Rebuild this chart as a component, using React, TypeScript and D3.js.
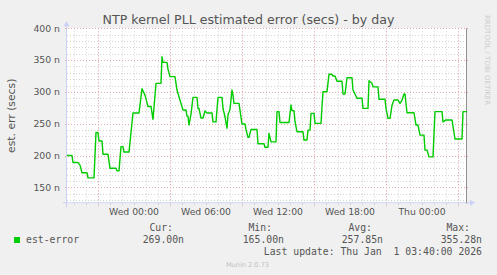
import React from "react";
import * as d3 from "d3";

const title = "NTP kernel PLL estimated error (secs) - by day";
const yTitle = "est. err (secs)";
const seriesName = "est-error";
const yTickValues = [150, 200, 250, 300, 350, 400];
const rangeStart = "2025-12-30 18:25";
const rangeEnd = "2026-01-01 03:45";

// sample times and values (nanoseconds)
const times = [
  "2025-12-30 18:25", "2025-12-30 18:50", "2025-12-30 18:55", "2025-12-30 19:20", "2025-12-30 19:30",
  "2025-12-30 19:40", "2025-12-30 20:05", "2025-12-30 20:10", "2025-12-30 20:40", "2025-12-30 20:50",
  "2025-12-30 21:00", "2025-12-30 21:05", "2025-12-30 21:20", "2025-12-30 21:25", "2025-12-30 21:50",
  "2025-12-30 22:00", "2025-12-30 22:30", "2025-12-30 22:35", "2025-12-30 22:45", "2025-12-30 22:55",
  "2025-12-30 23:05", "2025-12-30 23:10", "2025-12-30 23:35", "2025-12-30 23:55",
  "2025-12-31 00:25", "2025-12-31 00:40", "2025-12-31 00:55", "2025-12-31 01:10", "2025-12-31 01:25",
  "2025-12-31 01:35", "2025-12-31 01:50", "2025-12-31 02:15", "2025-12-31 02:20", "2025-12-31 02:25",
  "2025-12-31 02:45", "2025-12-31 02:50", "2025-12-31 03:00", "2025-12-31 03:25", "2025-12-31 03:35",
  "2025-12-31 03:50", "2025-12-31 04:05", "2025-12-31 04:20", "2025-12-31 04:25", "2025-12-31 04:30",
  "2025-12-31 04:35", "2025-12-31 04:45", "2025-12-31 04:55", "2025-12-31 05:15", "2025-12-31 05:20",
  "2025-12-31 05:25", "2025-12-31 05:35", "2025-12-31 05:45", "2025-12-31 05:55", "2025-12-31 06:05",
  "2025-12-31 06:30", "2025-12-31 06:35", "2025-12-31 06:50", "2025-12-31 07:00", "2025-12-31 07:20",
  "2025-12-31 07:25", "2025-12-31 07:35", "2025-12-31 07:45", "2025-12-31 07:50", "2025-12-31 08:00",
  "2025-12-31 08:10", "2025-12-31 08:15", "2025-12-31 08:20", "2025-12-31 08:45", "2025-12-31 09:00",
  "2025-12-31 09:15", "2025-12-31 09:20", "2025-12-31 09:30", "2025-12-31 09:35", "2025-12-31 09:45",
  "2025-12-31 10:15", "2025-12-31 10:20", "2025-12-31 10:50", "2025-12-31 10:55", "2025-12-31 11:10",
  "2025-12-31 11:15", "2025-12-31 11:25", "2025-12-31 11:50", "2025-12-31 11:55", "2025-12-31 12:05",
  "2025-12-31 12:10", "2025-12-31 12:55", "2025-12-31 13:05", "2025-12-31 13:10", "2025-12-31 13:20",
  "2025-12-31 13:25", "2025-12-31 13:35", "2025-12-31 14:05", "2025-12-31 14:10", "2025-12-31 14:25",
  "2025-12-31 14:30", "2025-12-31 14:40", "2025-12-31 14:45", "2025-12-31 15:00", "2025-12-31 15:05",
  "2025-12-31 15:35", "2025-12-31 15:40", "2025-12-31 15:45", "2025-12-31 16:05", "2025-12-31 16:15",
  "2025-12-31 16:30", "2025-12-31 16:35", "2025-12-31 16:45", "2025-12-31 16:55", "2025-12-31 17:20",
  "2025-12-31 17:25", "2025-12-31 17:35", "2025-12-31 17:45", "2025-12-31 18:10", "2025-12-31 18:15",
  "2025-12-31 18:35", "2025-12-31 19:00", "2025-12-31 19:05", "2025-12-31 19:30", "2025-12-31 19:35",
  "2025-12-31 19:50", "2025-12-31 19:55", "2025-12-31 20:20", "2025-12-31 20:25", "2025-12-31 20:55",
  "2025-12-31 21:00", "2025-12-31 21:10", "2025-12-31 21:20", "2025-12-31 21:30", "2025-12-31 21:40",
  "2025-12-31 22:00", "2025-12-31 22:10", "2025-12-31 22:20", "2025-12-31 22:30", "2025-12-31 22:35",
  "2025-12-31 22:45", "2025-12-31 23:20", "2025-12-31 23:30", "2025-12-31 23:40", "2025-12-31 23:50",
  "2026-01-01 00:10", "2026-01-01 00:15", "2026-01-01 00:25", "2026-01-01 00:35", "2026-01-01 00:55",
  "2026-01-01 01:05", "2026-01-01 01:40", "2026-01-01 01:45", "2026-01-01 02:00", "2026-01-01 02:30",
  "2026-01-01 02:45", "2026-01-01 03:20", "2026-01-01 03:25", "2026-01-01 03:45",
];
const values = [
  200, 200, 189, 189, 185,
  173, 173, 165, 165, 236.5,
  236, 223, 223, 202, 202,
  180, 180, 176, 176, 214,
  214, 205.5, 205.5, 267,
  267, 305, 295, 277, 277,
  257, 313.5, 313.5, 355.28, 346.5,
  346.5, 335.5, 324, 324, 303,
  287, 271.5, 271.5, 262, 262,
  248, 265, 291.5, 291.5, 274,
  274, 259, 259, 270, 267,
  267, 253, 253, 291.5, 291.5,
  274, 261, 243, 264, 272.6,
  303, 295, 282, 282, 249.5,
  249.5, 241, 228.6, 228.6, 241,
  241, 218.5, 218.5, 213, 213,
  235, 221.5, 221.5, 269, 269,
  252, 252, 279.4, 270.6, 270.6,
  253.2, 237.5, 237.5, 224.4, 224.4,
  240, 240, 266.3, 266.3, 250.6,
  250.6, 277, 300.4, 300.4, 327.7,
  327.7, 325, 325, 316.7, 316.7,
  296.7, 296.7, 322.3, 322.3, 303,
  290, 290, 274.2, 274.2, 317.7,
  313.5, 308, 308, 288.4, 288.4,
  274, 258.4, 258.4, 279, 287.3,
  287.3, 282, 287, 296.7, 296.7,
  267.3, 267.3, 248, 248, 232.2,
  232.2, 208.6, 208.6, 198, 198,
  269, 269, 253, 256, 256,
  226, 226, 269, 269,
];

const statLabels = ["Cur:", "Min:", "Avg:", "Max:"];
const statValues = ["269.00n", "165.00n", "257.85n", "355.28n"];
const lastUpdate = "Last update: Thu Jan\u00a0 1 03:40:00 2026";
const footer = "Munin 2.0.73";
const watermark = "RRDTOOL / TOBI OETIKER";

const W = 497, H = 275;
const left = 67, right = 467, top = 28.3, bottom = 203.3;
const sans = "DejaVu Sans";
const mono = "DejaVu Sans Mono";
const textColor = "#555";
const axisColor = "#c9d1f6";

export default function App() {
  const parse = d3.timeParse("%Y-%m-%d %H:%M");
  const data = times.map((t, i) => ({ date: parse(t) as Date, value: values[i] }));

  const x = d3.scaleTime()
    .domain([parse(rangeStart) as Date, parse(rangeEnd) as Date])
    .range([left, right]);
  const y = d3.scaleLinear().domain([125, 400]).range([bottom, top]);

  const line = d3.line<{ date: Date; value: number }>()
    .x(d => x(d.date))
    .y(d => y(d.value));

  const hours = x.ticks(d3.timeHour.every(1) as d3.TimeInterval);
  const majorHours = hours.filter(d => d.getHours() % 6 === 3);
  const labelHours = hours.filter(d => d.getHours() % 6 === 0);
  const xFormat = d3.timeFormat("%a %H:%M");

  const minorY = d3.range(130, 401, 10).filter(v => v % 50 !== 0);

  const statLabelX = [173, 272, 372, 470];
  const statValueX = [184, 284, 383, 482];

  return (
    <svg width={W} height={H} style={{ position: "absolute", left: 0, top: 0 }}>
      <rect width={W} height={H} fill="#f0f0f0" />
      <rect x={left} y={top} width={right - left} height={bottom - top} fill="#fff" />

      {/* minor grid */}
      <g stroke="#d4d4d4" strokeWidth={1} strokeDasharray="1,2">
        {minorY.map(v => (
          <line key={"my" + v} x1={left} x2={right} y1={Math.round(y(v)) + 0.5} y2={Math.round(y(v)) + 0.5} />
        ))}
        {hours.map(d => (
          <line key={"mx" + d.getTime()} x1={Math.round(x(d)) + 0.5} x2={Math.round(x(d)) + 0.5} y1={top} y2={bottom} />
        ))}
      </g>
      {/* major grid */}
      <g stroke="#e8a8a8" strokeWidth={1} strokeDasharray="1,2">
        {yTickValues.map(v => (
          <line key={"My" + v} x1={left - 2} x2={right + 2} y1={Math.round(y(v)) + 0.5} y2={Math.round(y(v)) + 0.5} />
        ))}
        {majorHours.map(d => (
          <line key={"Mx" + d.getTime()} x1={Math.round(x(d)) + 0.5} x2={Math.round(x(d)) + 0.5} y1={top} y2={bottom + 3} />
        ))}
      </g>
      <g stroke="#d4d4d4">
        {hours.map(d => (
          <line key={"tx" + d.getTime()} x1={Math.round(x(d)) + 0.5} x2={Math.round(x(d)) + 0.5} y1={bottom} y2={bottom + 2} />
        ))}
      </g>

      {/* axes */}
      <line x1={left - 4} x2={right + 4} y1={bottom - 0.5} y2={bottom - 0.5} stroke={axisColor} />
      <line x1={left - 0.5} x2={left - 0.5} y1={bottom + 4} y2={top - 3} stroke={axisColor} />
      <path d={`M${right + 3},${bottom - 3.5} L${right + 8},${bottom - 0.5} L${right + 3},${bottom + 2.5} Z`} fill={axisColor} />
      <path d={`M${left - 3.5},${top - 2} L${left - 0.5},${top - 7} L${left + 2.5},${top - 2} Z`} fill={axisColor} />
      <line x1={right - 0.5} x2={right - 0.5} y1={top} y2={bottom} stroke="#909090" />

      {/* series */}
      <path d={line(data) ?? ""} fill="none" stroke="#00cc00" strokeWidth={1.4} strokeLinejoin="round" />

      {/* labels */}
      <text x={248.5} y={23.5} textAnchor="middle" fontFamily={sans} fontSize={12.6} fill={textColor}>{title}</text>
      <text transform={`translate(15,${(top + bottom) / 2}) rotate(-90)`} textAnchor="middle" fontFamily={sans} fontSize={10.8} fill={textColor}>{yTitle}</text>
      <text transform={`translate(485,15) rotate(90)`} fontFamily={sans} fontSize={7} fill="#cccccc">{watermark}</text>
      <g fontFamily={sans} fontSize={9.3} fill={textColor}>
        {yTickValues.map(v => (
          <text key={"yl" + v} x={60} y={y(v) + 3.3} textAnchor="end">{`${v} n`}</text>
        ))}
        {labelHours.map(d => (
          <text key={"xl" + d.getTime()} x={x(d)} y={215} textAnchor="middle">{xFormat(d)}</text>
        ))}
      </g>

      {/* legend */}
      <rect x={14} y={237} width={6} height={6} fill="#00cc00" />
      <g fontFamily={mono} fontSize={9.8} fill={textColor}>
        <text x={26} y={243}>{seriesName}</text>
        {statLabels.map((s, i) => (
          <text key={s} x={statLabelX[i]} y={231} textAnchor="end">{s}</text>
        ))}
        {statValues.map((s, i) => (
          <text key={s} x={statValueX[i]} y={243} textAnchor="end">{s}</text>
        ))}
        <text x={482} y={255} textAnchor="end">{lastUpdate}</text>
      </g>
      <text x={247.5} y={267} textAnchor="middle" fontFamily={sans} fontSize={6.6} fill="#c0c0c0">{footer}</text>
    </svg>
  );
}
